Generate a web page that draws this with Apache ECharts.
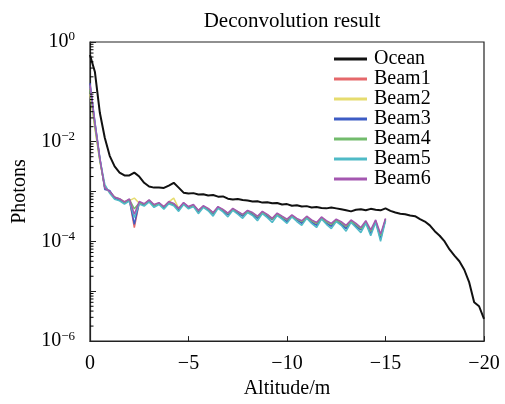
<!DOCTYPE html>
<html><head><meta charset="utf-8">
<script src="https://cdn.jsdelivr.net/npm/echarts@6/dist/echarts.min.js"></script>
<style>html,body{margin:0;padding:0;background:#fff}#c{width:505px;height:404px}</style>
</head><body><div id="c"></div><script>
const altitude = [0,-0.25,-0.5,-0.75,-1,-1.25,-1.5,-1.75,-2,-2.25,-2.5,-2.75,-3,-3.25,-3.5,-3.75,-4,-4.25,-4.5,-4.75,
 -5,-5.25,-5.5,-5.75,-6,-6.25,-6.5,-6.75,-7,-7.25,-7.5,-7.75,-8,-8.25,-8.5,-8.75,-9,-9.25,-9.5,-9.75,
 -10,-10.25,-10.5,-10.75,-11,-11.25,-11.5,-11.75,-12,-12.25,-12.5,-12.75,-13,-13.25,-13.5,-13.75,-14,-14.25,-14.5,-14.75,
 -15,-15.25,-15.5,-15.75,-16,-16.25,-16.5,-16.75,-17,-17.25,-17.5,-17.75,-18,-18.25,-18.5,-18.75,-19,-19.25,-19.5,-19.75,-20];
const ocean = [0.55,0.25,0.038,0.012,0.0052,0.0032,0.0024,0.0021,0.0021,0.0024,0.0020,0.0015,0.00126,0.0012,0.0012,0.00118,0.00132,0.0015,0.0012,0.00095,
 0.00091,0.00093,0.00087,0.00088,0.00083,0.00085,0.00079,0.0008,0.00072,0.00069,0.00071,0.00068,0.00066,0.00063,0.00064,0.0006,0.00061,0.00058,0.00059,0.00055,
 0.00056,0.00052,0.00053,0.0005,0.00051,0.00048,0.00049,0.00047,0.00046,0.00048,0.00046,0.00044,0.00042,0.0004,0.00043,0.00044,0.00042,0.00045,0.00043,0.00042,
 0.00046,0.00041,0.00038,0.00036,0.00035,0.00033,0.00032,0.00028,0.00025,0.00021,0.00016,0.00013,0.0001,6.9e-5,5.2e-5,4.0e-5,2.7e-5,1.5e-5,6e-6,5e-6,2.8e-6];
const beam1 = [0.12,0.022,0.0044,0.0012,0.001,7.6e-4,6.9e-4,6.0e-4,6.9e-4,1.9e-4,6.0e-4,5.5e-4,6.6e-4,5.25e-4,5.75e-4,4.8e-4,6.0e-4,5.5e-4,4.4e-4,5.75e-4,
 4.8e-4,5.25e-4,4.0e-4,5.0e-4,4.4e-4,3.6e-4,4.8e-4,4.2e-4,3.5e-4,4.4e-4,3.8e-4,3.3e-4,4.0e-4,3.6e-4,3.0e-4,3.8e-4,3.3e-4,2.75e-4,3.5e-4,3.0e-4,
 2.6e-4,3.2e-4,2.75e-4,2.4e-4,3.0e-4,2.5e-4,2.2e-4,2.9e-4,2.4e-4,2.1e-4,2.6e-4,2.3e-4,1.9e-4,2.5e-4,2.1e-4,1.74e-4,2.4e-4,1.5e-4,2.5e-4,1.2e-4,2.75e-4];
const beam2 = [0.09,0.018,0.004,0.0013,9.5e-4,7.2e-4,7.0e-4,6.3e-4,6.6e-4,7.4e-4,5.8e-4,5.6e-4,6.3e-4,5.4e-4,5.6e-4,5.0e-4,6.2e-4,7.4e-4,4.6e-4,5.6e-4,
 4.9e-4,5.1e-4,4.2e-4,4.9e-4,4.5e-4,3.8e-4,4.6e-4,4.3e-4,3.6e-4,4.3e-4,3.9e-4,3.4e-4,3.9e-4,3.7e-4,3.1e-4,3.7e-4,3.4e-4,2.9e-4,3.4e-4,3.1e-4,
 2.7e-4,3.1e-4,2.8e-4,2.5e-4,2.9e-4,2.6e-4,2.3e-4,2.8e-4,2.5e-4,2.2e-4,2.5e-4,2.4e-4,2.0e-4,2.4e-4,2.2e-4,1.8e-4,2.3e-4,1.6e-4,2.4e-4,1.3e-4,2.6e-4];
const beam3 = [0.15,0.025,0.0048,0.0011,0.00105,7.4e-4,6.7e-4,5.9e-4,6.8e-4,2.2e-4,6.1e-4,5.3e-4,6.5e-4,5.1e-4,5.9e-4,4.7e-4,5.8e-4,5.4e-4,4.3e-4,5.9e-4,
 4.7e-4,5.4e-4,3.9e-4,5.1e-4,4.3e-4,3.5e-4,4.9e-4,4.1e-4,3.4e-4,4.5e-4,3.7e-4,3.2e-4,4.1e-4,3.5e-4,2.9e-4,3.9e-4,3.2e-4,2.7e-4,3.6e-4,2.9e-4,
 2.5e-4,3.3e-4,2.7e-4,2.3e-4,3.1e-4,2.4e-4,2.1e-4,3.0e-4,2.3e-4,2.0e-4,2.7e-4,2.2e-4,1.8e-4,2.6e-4,2.0e-4,1.7e-4,2.5e-4,1.4e-4,2.6e-4,1.1e-4,2.8e-4];
const beam4 = [0.11,0.02,0.0042,0.0012,9.8e-4,7.8e-4,7.1e-4,6.1e-4,7.0e-4,4.5e-4,5.9e-4,5.6e-4,6.7e-4,5.3e-4,5.8e-4,4.9e-4,6.1e-4,5.7e-4,4.5e-4,5.8e-4,
 4.9e-4,5.3e-4,4.1e-4,5.0e-4,4.5e-4,3.7e-4,4.7e-4,4.3e-4,3.6e-4,4.4e-4,3.9e-4,3.4e-4,4.0e-4,3.7e-4,3.1e-4,3.8e-4,3.4e-4,2.8e-4,3.5e-4,3.1e-4,
 2.7e-4,3.2e-4,2.8e-4,2.5e-4,3.0e-4,2.6e-4,2.3e-4,2.9e-4,2.5e-4,2.2e-4,2.6e-4,2.4e-4,2.0e-4,2.5e-4,2.2e-4,1.8e-4,2.4e-4,1.6e-4,2.5e-4,1.3e-4,2.7e-4];
const beam5 = [0.13,0.024,0.0045,0.0014,9.2e-4,7.0e-4,6.5e-4,5.6e-4,6.4e-4,3.0e-4,5.6e-4,5.1e-4,6.2e-4,4.8e-4,5.5e-4,4.4e-4,5.7e-4,5.2e-4,4.0e-4,5.5e-4,
 4.5e-4,5.0e-4,3.6e-4,4.8e-4,4.1e-4,3.2e-4,4.6e-4,3.9e-4,3.1e-4,4.2e-4,3.5e-4,2.9e-4,3.8e-4,3.3e-4,2.6e-4,3.6e-4,3.0e-4,2.4e-4,3.3e-4,2.8e-4,
 2.3e-4,3.1e-4,2.5e-4,2.1e-4,2.9e-4,2.3e-4,1.9e-4,2.8e-4,2.2e-4,1.8e-4,2.5e-4,2.1e-4,1.6e-4,2.4e-4,1.9e-4,1.5e-4,2.3e-4,1.3e-4,2.4e-4,1.0e-4,2.6e-4];
const beam6 = [0.14,0.023,0.0046,0.0012,0.001,7.7e-4,7.2e-4,6.2e-4,7.1e-4,3.5e-4,6.3e-4,5.7e-4,6.8e-4,5.5e-4,6.0e-4,5.0e-4,6.3e-4,5.8e-4,4.6e-4,6.0e-4,
 5.0e-4,5.5e-4,4.2e-4,5.2e-4,4.6e-4,3.8e-4,5.0e-4,4.4e-4,3.7e-4,4.6e-4,4.0e-4,3.5e-4,4.2e-4,3.8e-4,3.2e-4,4.0e-4,3.5e-4,2.9e-4,3.7e-4,3.2e-4,
 2.8e-4,3.4e-4,2.9e-4,2.6e-4,3.2e-4,2.7e-4,2.4e-4,3.1e-4,2.6e-4,2.3e-4,2.8e-4,2.5e-4,2.1e-4,2.7e-4,2.3e-4,1.9e-4,2.6e-4,1.7e-4,2.7e-4,1.4e-4,2.9e-4];
const seriesNames = ['Ocean','Beam1','Beam2','Beam3','Beam4','Beam5','Beam6'];
const xTicks = [0,-5,-10,-15,-20];
const minorMantissas = [2,3,4,5,6,7,8,9];
const minorDecades = [1e-6,1e-5,1e-4,1e-3,1e-2,1e-1];

const colors = ['#111111','#e5686b','#e6dc6e','#3d5cc4','#72bb6c','#4fbac6','#a457b0'];
const FONT = 'Liberation Serif';
const FS = 20;
const pair = arr => arr.map((v,i)=>[altitude[i], v]);
const beams = [beam1,beam2,beam3,beam4,beam5,beam6];

const minorTickData = [];
minorDecades.forEach(d => minorMantissas.forEach(m => minorTickData.push([0, m*d])));

const series = [];
beams.forEach((b,i)=>{
  series.push({name: seriesNames[i+1], type:'line', data: pair(b), symbol:'none', animation:false,
    lineStyle:{color: colors[i+1], width:1.5}, itemStyle:{color: colors[i+1]}, z: 2+i});
});
series.unshift({name:'Ocean', type:'line', data: pair(ocean), symbol:'none', animation:false,
  lineStyle:{color: colors[0], width:2}, itemStyle:{color: colors[0]}, z: 10});
series.push({type:'custom', silent:true, animation:false, data: minorTickData, z: 20,
  renderItem: (params, api) => {
    const p = api.coord([0, api.value(1)]);
    return {type:'line', shape:{x1:p[0], y1:p[1], x2:p[0]+3.5, y2:p[1]}, style:{stroke:'#000', lineWidth:1}};
  }});

const chart = echarts.init(document.getElementById('c'), null, {renderer:'canvas'});
chart.setOption({
  backgroundColor:'#fff',
  animation:false,
  title:{text:'Deconvolution result', left:287, top:6, textAlign:'center',
    textStyle:{fontFamily:FONT, fontSize:21, fontWeight:'normal', color:'#000'}},
  legend:{data: seriesNames, orient:'vertical', left:329, top:44, icon:'rect', itemWidth:33, itemHeight:3, itemGap:0,
    textStyle:{fontFamily:FONT, fontSize:FS, color:'#000', lineHeight:19.7, padding:[0,0,0,2]}},
  grid:{left:90, right:21, top:42, bottom:62, show:true, borderColor:'#222', borderWidth:1.2},
  xAxis:{type:'value', min:-20, max:0, interval:5, inverse:true,
    name:'Altitude/m', nameLocation:'middle', nameGap:36,
    nameTextStyle:{fontFamily:FONT, fontSize:FS, color:'#000'},
    axisLine:{show:true, onZero:false, lineStyle:{color:'#222', width:1.2}},
    axisTick:{show:true, inside:true, length:5, lineStyle:{color:'#222'}},
    splitLine:{show:false},
    axisLabel:{fontFamily:FONT, fontSize:FS, color:'#000', margin:13,
      formatter: v => (v < 0 ? '\u2212' + (-v) : String(v))}},
  yAxis:{type:'log', min:1e-6, max:1, logBase:10,
    name:'Photons', nameLocation:'middle', nameGap:60,
    nameTextStyle:{fontFamily:FONT, fontSize:FS, color:'#000'},
    axisLine:{show:true, lineStyle:{color:'#222', width:1.2}},
    axisTick:{show:true, inside:true, length:6, lineStyle:{color:'#222'}},
    splitLine:{show:false},
    axisLabel:{fontFamily:FONT, fontSize:FS, color:'#000', margin:15,
      formatter: v => { const e = Math.round(Math.log10(v)); if (e % 2 !== 0) return '';
        return '10{e|' + (e < 0 ? '\u2212' + (-e) : String(e)) + '}'; },
      rich:{e:{fontFamily:FONT, fontSize:13, color:'#000', padding:[0,0,10,0]}}}},
  series: series
});
</script></body></html>
